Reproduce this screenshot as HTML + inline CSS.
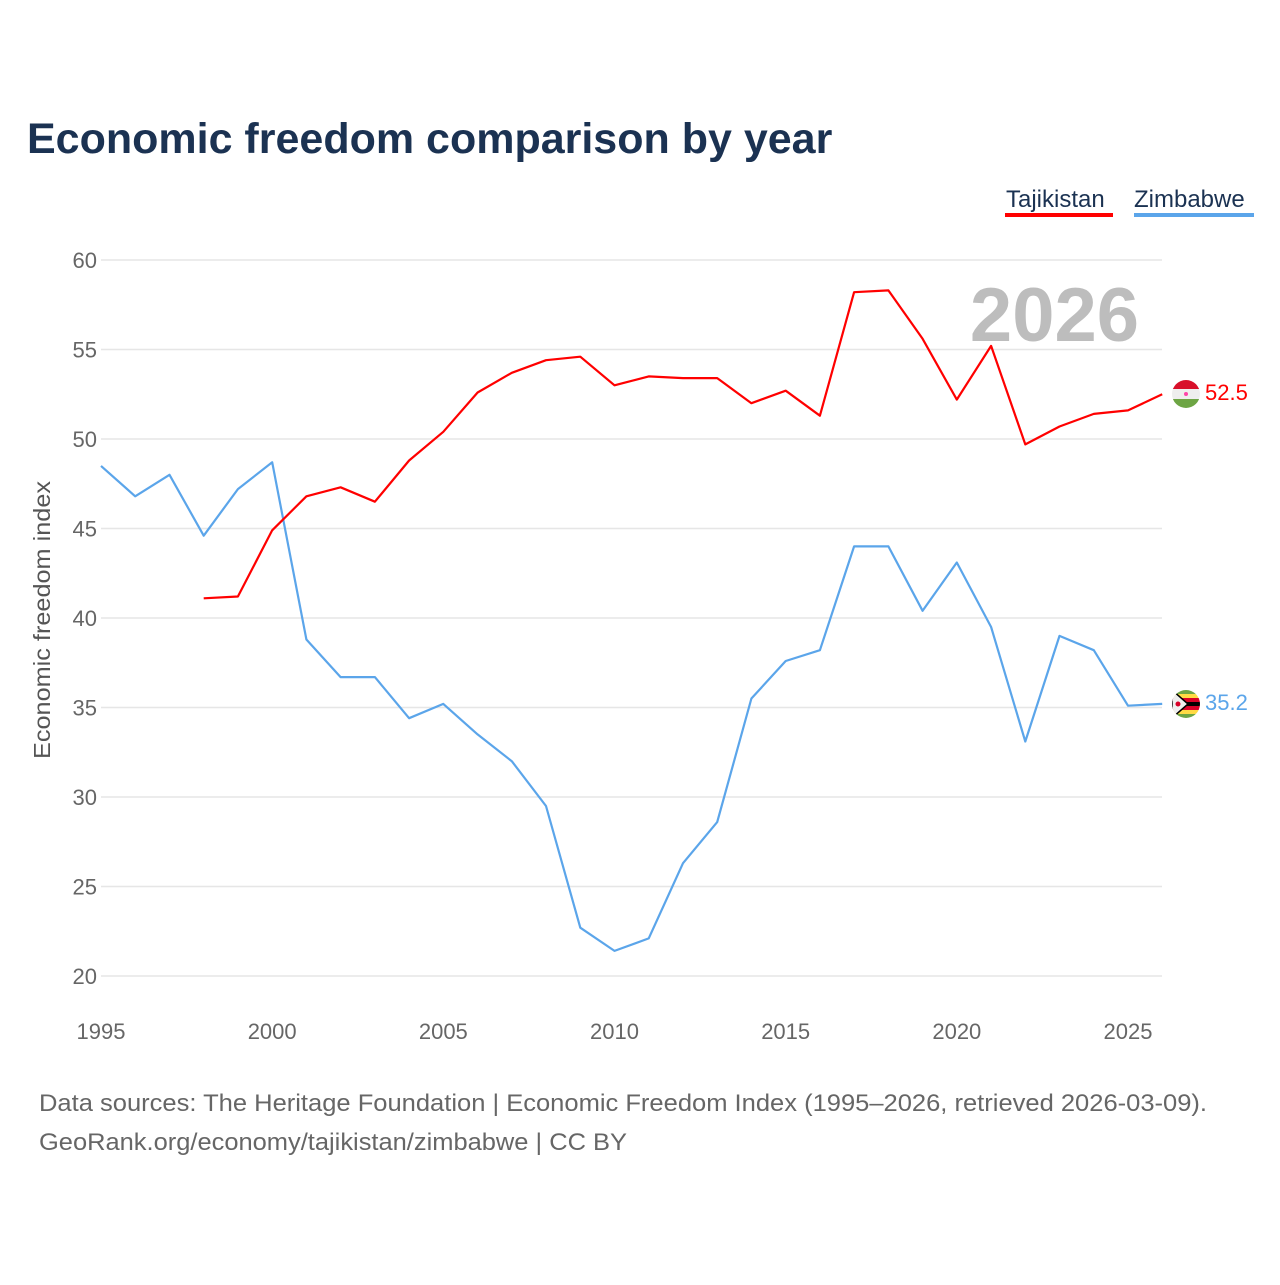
<!DOCTYPE html>
<html><head><meta charset="utf-8"><style>
body{margin:0;background:#fff;width:1280px;height:1280px;overflow:hidden;font-family:"Liberation Sans",sans-serif}
svg text{font-family:"Liberation Sans",sans-serif}
</style></head><body>
<svg id="chart" width="1280" height="1280">
<text x="27" y="153" font-size="43" font-weight="bold" fill="#1b3252">Economic freedom comparison by year</text>
<g>
<text x="1006" y="207" font-size="24" fill="#1b3252">Tajikistan</text>
<rect x="1005" y="213" width="108" height="4" fill="#ff0000"/>
<text x="1134" y="207" font-size="24" fill="#1b3252">Zimbabwe</text>
<rect x="1134" y="213" width="120" height="4" fill="#5ba5ea"/>
</g>
<text x="1139" y="341" text-anchor="end" font-size="76" font-weight="bold" fill="#bdbdbd">2026</text>
<text transform="translate(50,620) rotate(-90)" text-anchor="middle" font-size="23" textLength="278" lengthAdjust="spacingAndGlyphs" fill="#555">Economic freedom index</text>
<g id="grid"></g><g id="lines"></g>
<g>
<clipPath id="c1"><circle cx="1186" cy="394" r="14"/></clipPath>
<g clip-path="url(#c1)"><rect x="1172" y="380" width="28" height="9" fill="#d8102a"/><rect x="1172" y="389" width="28" height="10" fill="#eee"/><rect x="1172" y="399" width="28" height="9" fill="#6da544"/><circle cx="1186" cy="394" r="2" fill="#f4a"/></g></g>
<g>
<clipPath id="c2"><circle cx="1186" cy="704" r="14"/></clipPath>
<g clip-path="url(#c2)"><rect x="1172" y="690" width="28" height="4" fill="#6da544"/><rect x="1172" y="694" width="28" height="4" fill="#ffda44"/><rect x="1172" y="698" width="28" height="4" fill="#d80027"/><rect x="1172" y="702" width="28" height="4" fill="#000"/><rect x="1172" y="706" width="28" height="4" fill="#d80027"/><rect x="1172" y="710" width="28" height="4" fill="#ffda44"/><rect x="1172" y="714" width="28" height="4" fill="#6da544"/><polygon points="1172,690 1188,704 1172,718" fill="#eee" stroke="#000" stroke-width="1.5"/><circle cx="1178" cy="704" r="2.5" fill="#d80027"/></g></g>
<text x="1205" y="400" font-size="22" fill="#ff0000">52.5</text>
<text x="1205" y="710" font-size="22" fill="#5ba5ea">35.2</text>
<text x="39" y="1111" font-size="24" textLength="1168" lengthAdjust="spacingAndGlyphs" fill="#666">Data sources: The Heritage Foundation | Economic Freedom Index (1995–2026, retrieved 2026-03-09).</text>
<text x="39" y="1150" font-size="24" textLength="588" lengthAdjust="spacingAndGlyphs" fill="#666">GeoRank.org/economy/tajikistan/zimbabwe | CC BY</text>
</svg>
<script>
const years=[1995,1996,1997,1998,1999,2000,2001,2002,2003,2004,2005,2006,2007,2008,2009,2010,2011,2012,2013,2014,2015,2016,2017,2018,2019,2020,2021,2022,2023,2024,2025,2026];
const tajikistan=[null,null,null,41.1,41.2,44.9,46.8,47.3,46.5,48.8,50.4,52.6,53.7,54.4,54.6,53.0,53.5,53.4,53.4,52.0,52.7,51.3,58.2,58.3,55.6,52.2,55.2,49.7,50.7,51.4,51.6,52.5];
const zimbabwe=[48.5,46.8,48.0,44.6,47.2,48.7,38.8,36.7,36.7,34.4,35.2,33.5,32.0,29.5,22.7,21.4,22.1,26.3,28.6,35.5,37.6,38.2,44.0,44.0,40.4,43.1,39.5,33.1,39.0,38.2,35.1,35.2];
const yTicks=[20,25,30,35,40,45,50,55,60];
const xTicks=[1995,2000,2005,2010,2015,2020,2025];
const NS="http://www.w3.org/2000/svg";
const X=y=>101+(y-1995)*(1027/30);
const Y=v=>976-(v-20)*(716/40);
const grid=document.getElementById('grid'),lines=document.getElementById('lines');
yTicks.forEach(t=>{
 const l=document.createElementNS(NS,'line');
 l.setAttribute('x1',101);l.setAttribute('x2',1162);l.setAttribute('y1',Y(t));l.setAttribute('y2',Y(t));
 l.setAttribute('stroke','#e6e6e6');l.setAttribute('stroke-width','1.5');
 
 
 grid.appendChild(l);
 const tx=document.createElementNS(NS,'text');
 tx.setAttribute('x',97);tx.setAttribute('y',Y(t)+8);tx.setAttribute('text-anchor','end');
 tx.setAttribute('font-size','22');tx.setAttribute('fill','#666');tx.textContent=t;
 
 
 grid.appendChild(tx);
});
xTicks.forEach(t=>{
 const tx=document.createElementNS(NS,'text');
 tx.setAttribute('x',X(t));tx.setAttribute('y',1039);tx.setAttribute('text-anchor','middle');
 tx.setAttribute('font-size','22');tx.setAttribute('fill','#666');tx.textContent=t;
 
 
 grid.appendChild(tx);
});
function draw(vals,color,name){
 const pts=[];vals.forEach((v,i)=>{if(v!==null)pts.push(X(years[i]).toFixed(1)+','+Y(v).toFixed(1));});
 const p=document.createElementNS(NS,'polyline');
 p.setAttribute('points',pts.join(' '));p.setAttribute('fill','none');
 p.setAttribute('stroke',color);p.setAttribute('stroke-width','2.2');p.setAttribute('stroke-linejoin','round');
 
 
 lines.appendChild(p);
}
draw(zimbabwe,'#5ba5ea','zimbabwe-line');
draw(tajikistan,'#ff0000','tajikistan-line');
</script>
</body></html>
